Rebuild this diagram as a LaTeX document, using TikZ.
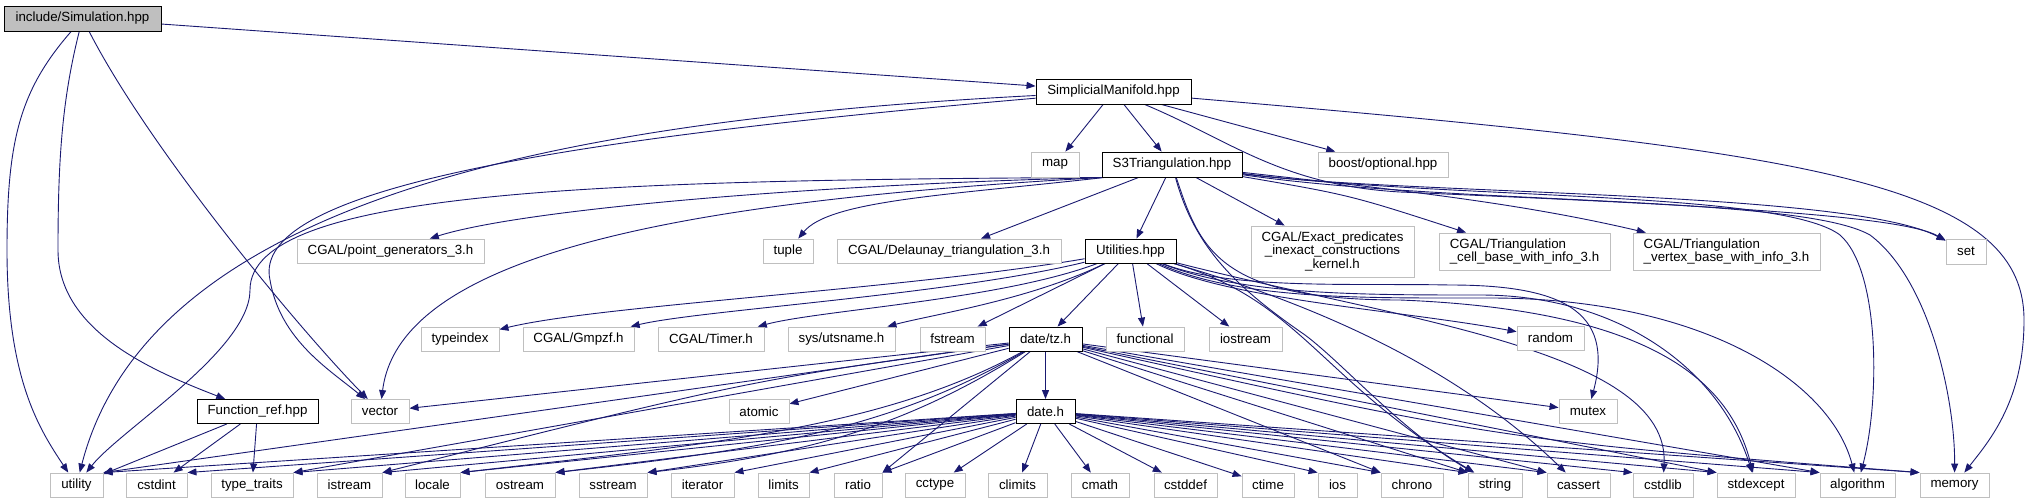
\documentclass[tikz,border=0pt]{standalone}
\usepackage{fontspec}
\setmainfont{Liberation Sans}
\usetikzlibrary{arrows.meta}
\definecolor{navy}{RGB}{25,25,112}
\definecolor{extgray}{RGB}{191,191,191}
\pgfdeclarelayer{background}
\pgfsetlayers{background,main}
\newcommand\nodefont{\fontsize{13.3}{13.5}\selectfont}
\begin{document}
\begin{tikzpicture}[x=1pt,y=-1pt,
  nbox/.style={rectangle, inner sep=0pt, minimum height=24pt, font=\nodefont, line width=0.9pt, fill=white},
  extnode/.style={nbox, draw=extgray},
  incnode/.style={nbox, draw=black},
  dep/.style={draw=navy, line width=0.9pt, -{Triangle[length=9pt,width=7pt]}},
]
\useasboundingbox (0,0) rectangle (2028,503);
% row 0-2
\node[incnode, fill=extgray, minimum width=157pt, minimum height=25pt] (S) at (82.5,18.5) {include/Simulation.hpp};
\node[incnode, minimum width=155pt, minimum height=25pt] (SM) at (1113.5,91.5) {SimplicialManifold.hpp};
\node[extnode, minimum width=48pt, minimum height=25pt] (map) at (1055,164.5) {map};
\node[incnode, minimum width=140pt, minimum height=25pt] (S3) at (1172,164.5) {S3Triangulation.hpp};
\node[extnode, minimum width=130pt, minimum height=25pt] (opt) at (1383,164.5) {boost/optional.hpp};
% row 3
\node[extnode, minimum width=187pt] (pg) at (390.5,251) {CGAL/point\_generators\_3.h};
\node[extnode, minimum width=50pt] (tuple) at (788,251) {tuple};
\node[extnode, minimum width=224pt] (del) at (949,251) {CGAL/Delaunay\_triangulation\_3.h};
\node[incnode, minimum width=91pt] (util) at (1130.5,251) {Utilities.hpp};
\node[extnode, minimum width=163pt, minimum height=51pt, align=center] (exact) at (1332.5,251.5) {CGAL/Exact\_predicates\\\_inexact\_constructions\\\_kernel.h};
\node[extnode, minimum width=171pt, minimum height=37pt, align=left] (tcell) at (1524.5,251.5) {CGAL/Triangulation\\\_cell\_base\_with\_info\_3.h};
\node[extnode, minimum width=187pt, minimum height=37pt, align=left] (tvert) at (1726.5,251.5) {CGAL/Triangulation\\\_vertex\_base\_with\_info\_3.h};
\node[extnode, minimum width=40pt, minimum height=25pt] (set) at (1966,251.5) {set};
% row 4
\node[extnode, minimum width=78pt] (typeindex) at (460,339) {typeindex};
\node[extnode, minimum width=111pt] (gmpzf) at (578.5,339) {CGAL/Gmpzf.h};
\node[extnode, minimum width=106pt] (timer) at (711,339) {CGAL/Timer.h};
\node[extnode, minimum width=107pt] (uts) at (841.5,339) {sys/utsname.h};
\node[extnode, minimum width=65pt] (fstream) at (952.5,339) {fstream};
\node[incnode, minimum width=73pt] (tz) at (1045.5,339) {date/tz.h};
\node[extnode, minimum width=78pt] (functional) at (1145,339) {functional};
\node[extnode, minimum width=73pt] (iostream) at (1245.5,339) {iostream};
\node[extnode, minimum width=67pt] (random) at (1550.5,338) {random};
% row 5
\node[incnode, minimum width=121pt] (fref) at (257.5,411.5) {Function\_ref.hpp};
\node[extnode, minimum width=58pt] (vector) at (380,411.5) {vector};
\node[extnode, minimum width=60pt] (atomic) at (759,411.5) {atomic};
\node[incnode, minimum width=59pt] (date) at (1045.5,411.5) {date.h};
\node[extnode, minimum width=58pt] (mutex) at (1588,411.5) {mutex};
% row 6
\node[extnode, minimum width=53pt] (utility) at (76.5,485) {utility};
\node[extnode, minimum width=61pt] (cstdint) at (156.5,485) {cstdint};
\node[extnode, minimum width=82pt] (ttraits) at (252,485) {type\_traits};
\node[extnode, minimum width=65pt] (istream) at (349.5,485) {istream};
\node[extnode, minimum width=55pt] (locale) at (432.5,485) {locale};
\node[extnode, minimum width=70pt] (ostream) at (520,485) {ostream};
\node[extnode, minimum width=68pt] (sstream) at (613,485) {sstream};
\node[extnode, minimum width=63pt] (iterator) at (702.5,485) {iterator};
\node[extnode, minimum width=51pt] (limits) at (783.5,485) {limits};
\node[extnode, minimum width=48pt] (ratio) at (858,485) {ratio};
\node[extnode, minimum width=60pt] (cctype) at (935,485) {cctype};
\node[extnode, minimum width=59pt] (climits) at (1017.5,485) {climits};
\node[extnode, minimum width=58pt] (cmath) at (1100,485) {cmath};
\node[extnode, minimum width=63pt] (cstddef) at (1185.5,485) {cstddef};
\node[extnode, minimum width=52pt] (ctime) at (1268,485) {ctime};
\node[extnode, minimum width=39pt] (ios) at (1337.5,485) {ios};
\node[extnode, minimum width=62pt] (chrono) at (1412,485) {chrono};
\node[extnode, minimum width=54pt] (string) at (1495,485) {string};
\node[extnode, minimum width=63pt] (cassert) at (1578.5,485) {cassert};
\node[extnode, minimum width=60pt] (cstdlib) at (1663,485) {cstdlib};
\node[extnode, minimum width=78pt] (stdexcept) at (1756,485) {stdexcept};
\node[extnode, minimum width=75pt] (algorithm) at (1857.5,485) {algorithm};
\node[extnode, minimum width=69pt] (memory) at (1954.5,485) {memory};

\begin{pgfonlayer}{background}
% Simulation.hpp
\draw[dep] (S) -- (SM);
\draw[dep] (S) .. controls (20,90) and (7,140) .. (7,250) .. controls (7,380) and (40,430) .. (utility);
\draw[dep] (S) .. controls (62,100) and (58,160) .. (58,250) .. controls (58,330) and (150,370) .. (fref);
\draw[dep] (S) .. controls (150,150) and (300,330) .. (vector);
% SimplicialManifold.hpp
\draw[dep] (SM) -- (map);
\draw[dep] (SM) -- (S3);
\draw[dep] (SM) -- (opt);
\draw[dep] (SM) .. controls (560,120) and (150,200) .. (utility);
\draw[dep] (SM) .. controls (550,140) and (250,190) .. (270,280) .. controls (280,340) and (330,370) .. (vector);
\draw[dep] (SM) .. controls (1230,140) and (1280,185) .. (1400,192) .. controls (1700,205) and (1900,215) .. (set);
\draw[dep] (SM) .. controls (1800,150) and (2024,180) .. (2024,320) .. controls (2024,400) and (1990,440) .. (memory);
% S3Triangulation.hpp
\draw[dep] (S3) -- (util);
\draw[dep] (S3) -- (del);
\draw[dep] ([xshift=3pt]S3.south west) .. controls (950,195) and (830,200) .. (tuple);
\draw[dep] ([xshift=2pt]S3.south west) .. controls (800,185) and (520,210) .. (pg);
\draw[dep] ([xshift=1pt]S3.south west) .. controls (700,200) and (400,250) .. (vector);
\draw[dep] (S3.south west) .. controls (600,180) and (250,190) .. (250,290) .. controls (250,350) and (120,430) .. (utility);
\draw[dep] (S3) -- (exact);
\draw[dep] (S3) .. controls (1350,195) .. (tcell);
\draw[dep] (S3) .. controls (1400,190) and (1520,203) .. (tvert);
\draw[dep] (S3) .. controls (1400,195) and (1850,190) .. (set);
\draw[dep] (S3) .. controls (1450,200) and (1780,190) .. (1840,235) .. controls (1880,270) and (1880,400) .. (algorithm);
\draw[dep] (S3) .. controls (1450,205) and (1800,195) .. (1870,235) .. controls (1930,280) and (1955,400) .. (memory);
\draw[dep] (S3) .. controls (1200,250) and (1220,300) .. (1400,300) .. controls (1650,310) and (1730,380) .. (stdexcept);
\draw[dep] (S3) .. controls (1195,250) and (1240,290) .. (1305,335) .. controls (1345,365) and (1400,430) .. (string);
% Utilities.hpp
\draw[dep] (util) .. controls (900,290) and (600,305) .. (typeindex);
\draw[dep] (util) .. controls (950,295) and (700,310) .. (gmpzf);
\draw[dep] (util) .. controls (1000,300) and (820,310) .. (timer);
\draw[dep] (util) .. controls (1030,300) and (930,315) .. (uts);
\draw[dep] (util) -- (fstream);
\draw[dep] (util) -- (tz);
\draw[dep] (util) -- (functional);
\draw[dep] (util) -- (iostream);
\draw[dep] (util) .. controls (1230,300) and (1400,310) .. (random);
\draw[dep] (util) .. controls (1230,290) and (1350,283) .. (1450,285) .. controls (1560,285) and (1615,310) .. (mutex);
\draw[dep] (util) .. controls (1300,300) and (1320,380) .. (string);
\draw[dep] (util) .. controls (1300,300) and (1450,360) .. (cassert);
\draw[dep] (util) .. controls (1400,320) and (1670,350) .. (cstdlib);
\draw[dep] (util) .. controls (1240,295) and (1360,295) .. (1480,295) .. controls (1620,295) and (1720,370) .. (stdexcept);
\draw[dep] (util) .. controls (1240,300) and (1360,298) .. (1490,298) .. controls (1700,298) and (1830,380) .. (algorithm);
% date/tz.h
\draw[dep] (tz) -- (date);
\draw[dep] (tz) -- (atomic);
\draw[dep] (tz) -- (vector);
\draw[dep] (tz) -- (utility.north east);
\draw[dep] (tz) -- (ttraits.north east);
\draw[dep] (tz) .. controls (750,380) .. (istream.north east);
\draw[dep] (tz) .. controls (880,430) and (700,445) .. (locale.north east);
\draw[dep] (tz) .. controls (890,430) and (760,450) .. (ostream.north east);
\draw[dep] (tz) .. controls (900,430) and (800,455) .. (sstream.north east);
\draw[dep] (tz) -- (ratio.north east);
\draw[dep] (tz) -- (mutex);
\draw[dep] (tz) -- (chrono.north west);
\draw[dep] (tz) -- (string.north west);
\draw[dep] (tz) -- (cassert.north west);
\draw[dep] (tz) -- (stdexcept.north west);
\draw[dep] (tz) -- (algorithm.north west);
\draw[dep] (tz) .. controls (1500,440) .. (memory.north west);
% date.h
\foreach \tg in {utility,cstdint,ttraits,istream,locale,ostream,sstream,iterator,limits,ratio}
  \draw[dep] (date) -- (\tg.north east);
\foreach \tg in {cctype,climits,cmath,cstddef,ctime}
  \draw[dep] (date) -- (\tg);
\foreach \tg in {ios,chrono,string,cassert,cstdlib,stdexcept,algorithm,memory}
  \draw[dep] (date) -- (\tg.north west);
% Function_ref.hpp
\draw[dep] (fref) -- (utility);
\draw[dep] (fref) -- (cstdint);
\draw[dep] (fref) -- (ttraits);
\end{pgfonlayer}
\end{tikzpicture}
\end{document}
